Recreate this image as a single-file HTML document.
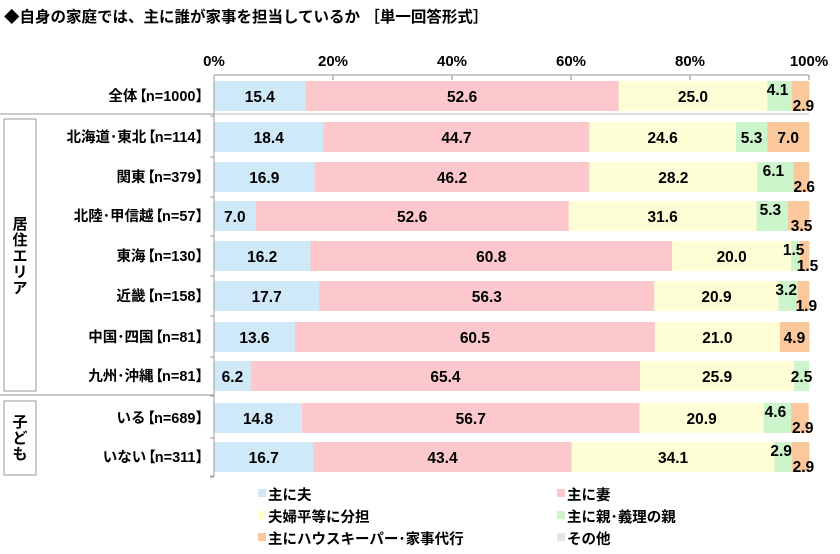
<!DOCTYPE html>
<html><head><meta charset="utf-8">
<style>
html,body{margin:0;padding:0;background:#fff;}
svg{display:block;font-family:"Liberation Sans","Noto Sans CJK JP",sans-serif;font-weight:bold;}
</style></head>
<body>
<svg id="c" width="840" height="554" xmlns="http://www.w3.org/2000/svg">
<text x="4" y="22" font-size="15.5" fill="#000">◆自身の家庭では、主に誰が家事を担当しているか ［単一回答形式］</text>
</svg>
<script>
var s=document.getElementById('c'),NS='http://www.w3.org/2000/svg';
function el(t,a,txt){var e=document.createElementNS(NS,t);for(var k in a)e.setAttribute(k,a[k]);if(txt!=null)e.textContent=txt;s.appendChild(e);return e;}
function ts(p,txt,dx){var b=document.createElementNS(NS,'tspan');if(dx)b.setAttribute('dx',dx);b.textContent=txt;p.appendChild(b);}
var X0=214,W=5.95;
var cols=['#cfe9f9','#fcc8cc','#fefed6','#ccf5cc','#fac89c','#e6e6e6'];
var rows=[
['全体','n=1000',96,[15.4,52.6,25.0,4.1,2.9]],
['北海道･東北','n=114',137,[18.4,44.7,24.6,5.3,7.0]],
['関東','n=379',177,[16.9,46.2,28.2,6.1,2.6]],
['北陸･甲信越','n=57',216,[7.0,52.6,31.6,5.3,3.5]],
['東海','n=130',256,[16.2,60.8,20.0,1.5,1.5]],
['近畿','n=158',296,[17.7,56.3,20.9,3.2,1.9]],
['中国･四国','n=81',337,[13.6,60.5,21.0,0,4.9]],
['九州･沖縄','n=81',376,[6.2,65.4,25.9,2.5,0]],
['いる','n=689',418,[14.8,56.7,20.9,4.6,2.9]],
['いない','n=311',457,[16.7,43.4,34.1,2.9,2.9]]];
for(var i=0;i<=5;i++){var x=X0+i*20*W;el('text',{x:x,y:66,'font-size':15,'text-anchor':'middle'},(i*20)+'%');el('line',{x1:x,y1:75,x2:x,y2:80,stroke:'#888'});}
el('line',{x1:X0,y1:75,x2:X0+100*W,y2:75,stroke:'#999'});
rows.forEach(function(r){
  var y=r[2],d=r[3],cum=0;
  var t=el('text',{x:210,y:y+5,'font-size':14.5,'text-anchor':'end'});
  ts(t,r[0]);ts(t,'【','-5');ts(t,r[1],'-1');ts(t,'】','0');
  d.forEach(function(v,j){if(!v)return;el('rect',{x:X0+cum*W,y:y-15,width:v*W+0.3,height:30,fill:cols[j]});cum+=v;});
  cum=0;
  var stack=(d[3]<7&&d[3]>0&&d[4]>0&&d[4]<4);
  d.forEach(function(v,j){if(!v){return;}var cx=X0+(cum+v/2)*W,cy=y+6;
    if(stack&&j==3){cy=y-1;cx-=2;} if(stack&&j==4){cy=y+15;cx+=3;}
    el('text',{x:cx,y:cy,'font-size':15.5,'text-anchor':'middle'},v.toFixed(1));cum+=v;});
  el('line',{x1:X0-4,y1:y+20,x2:X0,y2:y+20,stroke:'#999'});
});
el('line',{x1:X0,y1:75,x2:X0,y2:476,stroke:'#999'});
el('line',{x1:X0-4,y1:476,x2:X0,y2:476,stroke:'#999'});
el('line',{x1:0,y1:114,x2:X0,y2:114,stroke:'#999'});
el('line',{x1:X0,y1:114,x2:X0+100*W,y2:114,stroke:'#bbb'});
el('line',{x1:0,y1:395,x2:X0,y2:395,stroke:'#999'});
el('rect',{x:4,y:119,width:32,height:272,fill:'none',stroke:'#999'});
el('rect',{x:4,y:401,width:32,height:74,fill:'none',stroke:'#999'});
['居','住','エ','リ','ア'].forEach(function(c,i){el('text',{x:20,y:229+i*16,'font-size':15,'text-anchor':'middle'},c);});
['子','ど','も'].forEach(function(c,i){el('text',{x:20,y:427+i*16,'font-size':15,'text-anchor':'middle'},c);});
var lg=[['主に夫',258,500,0],['主に妻',557,500,1],['夫婦平等に分担',258,522,2],['主に親･義理の親',557,522,3],['主にハウスキーパー･家事代行',258,544,4],['その他',557,544,5]];
lg.forEach(function(l){el('rect',{x:l[1],y:l[2]-11,width:8,height:8,fill:cols[l[3]]});el('text',{x:l[1]+10,y:l[2],'font-size':14.5},l[0]);});
</script>
</body></html>
